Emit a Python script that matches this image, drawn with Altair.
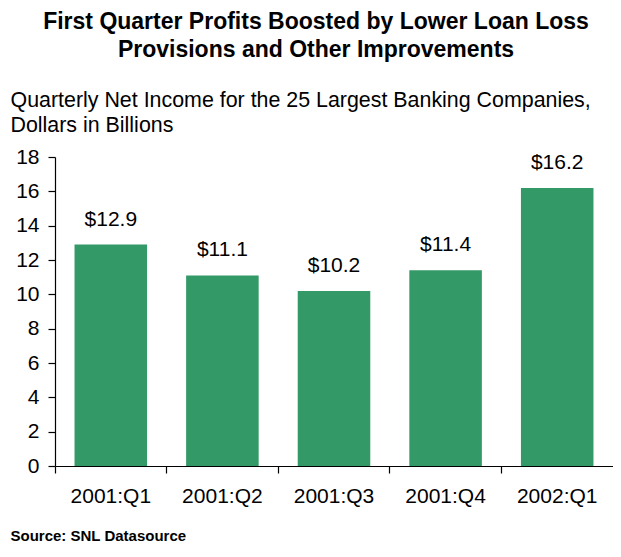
import altair as alt
import pandas as pd

quarters = ["2001:Q1", "2001:Q2", "2001:Q3", "2001:Q4", "2002:Q1"]
income = [12.9, 11.1, 10.2, 11.4, 16.2]
labels = ["$12.9", "$11.1", "$10.2", "$11.4", "$16.2"]
y_ticks = [0, 2, 4, 6, 8, 10, 12, 14, 16, 18]

title_lines = ["First Quarter Profits Boosted by Lower Loan Loss",
               "Provisions and Other Improvements"]
subtitle_lines = ["Quarterly Net Income for the 25 Largest Banking Companies,",
                  "Dollars in Billions"]
source_text = "Source: SNL Datasource"

df = pd.DataFrame({"quarter": quarters, "income": income, "label": labels})

FONT = "Liberation Sans"
GREEN = "#339966"
FS = 21

x_enc = alt.X(
    "quarter:N",
    sort=quarters,
    scale=alt.Scale(paddingInner=0, paddingOuter=0),
    axis=alt.Axis(
        title=source_text,
        titleFont=FONT, titleFontSize=15, titleFontWeight="bold", titleColor="#000",
        titleX=-45, titleY=74, titleAlign="left", titleBaseline="alphabetic", titleAnchor="start",
        labelFont=FONT, labelFontSize=FS, labelColor="#000", labelPadding=12,
        labelAngle=0,
        domainColor="#000", tickColor="#000", tickSize=7, domainWidth=1.2, tickWidth=1.2,
        bandPosition=0,
    ),
)

y_enc = alt.Y(
    "income:Q",
    scale=alt.Scale(domain=[0, 18], nice=False),
    axis=alt.Axis(
        values=y_ticks, grid=False, labelOverlap=False, tickCount=10,
        title=subtitle_lines,
        titleFont=FONT, titleFontSize=21.4, titleFontWeight="normal", titleColor="#000",
        titleAngle=0, titleX=-45, titleY=-51, titleAlign="left", titleBaseline="alphabetic",
        titleLineHeight=25,
        labelFont=FONT, labelFontSize=FS, labelColor="#000", labelPadding=9,
        domainColor="#000", tickColor="#000", tickSize=7, domainWidth=1.2, tickWidth=1.2,
    ),
)

base = alt.Chart(df).encode(x=x_enc, y=y_enc)

bars = base.mark_bar(color=GREEN, width=alt.RelativeBandSize(0.65))

text = base.mark_text(
    font=FONT, fontSize=FS, color="#000", baseline="alphabetic", dy=-19
).encode(text="label:N")

chart = alt.layer(bars, text).properties(
    width=558,
    height=309,
    autosize=alt.AutoSizeParams(type="none"),
    padding={"left": 47, "top": 149, "right": 0, "bottom": 83},
    title=alt.Title(
        text=title_lines,
        font=FONT, fontSize=23, fontWeight="bold", color="#000",
        anchor="middle", frame="group", dx=-18, lineHeight=28, offset=27,
    ),
).configure_view(stroke=None)

chart.save("out.html", embed_options={"renderer": "svg", "actions": False})
